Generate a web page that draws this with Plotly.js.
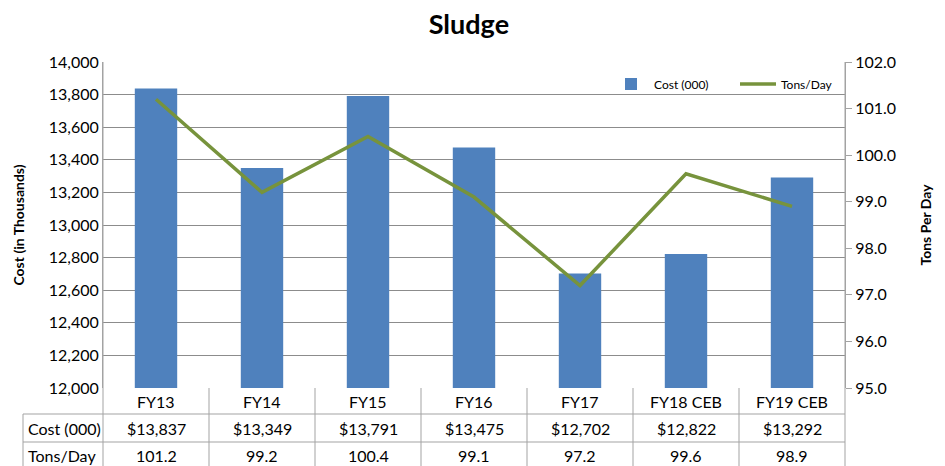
<!DOCTYPE html>
<html>
<head>
<meta charset="utf-8">
<script src="https://cdn.plot.ly/plotly-3.0.1.min.js"></script>
<style>
  body { margin: 0; background: #fff; }
  #chart { width: 945px; height: 466px; }
</style>
</head>
<body>
<div id="chart"></div>
<script>
// values
var years = ['FY13', 'FY14', 'FY15', 'FY16', 'FY17', 'FY18 CEB', 'FY19 CEB'];
var cost = [13837, 13349, 13791, 13475, 12702, 12822, 13292];
var tons = [101.2, 99.2, 100.4, 99.1, 97.2, 99.6, 98.9];
var rowLabels = ['Cost (000)', 'Tons/Day'];

var font = 'Lato, "Open Sans", sans-serif';
var gridColor = '#8c8c8c';
var lineColor = '#a3a3a3';

// plot area is 326px tall, helpers to go from pixel rows to paper coords
var plotTop = 62, plotBottom = 388, plotH = plotBottom - plotTop;
function py(pix) { return (plotBottom - pix) / plotH; }

var traces = [
  {
    x: years,
    y: cost,
    type: 'bar',
    name: 'Cost (000)',
    marker: { color: '#4F81BD' },
    hoverinfo: 'x+y'
  },
  {
    x: years,
    y: tons,
    type: 'scatter',
    mode: 'lines',
    name: 'Tons/Day',
    yaxis: 'y2',
    line: { color: '#77933C', width: 3.5 }
  }
];

var shapes = [];
var annotations = [];

// table rows
var rowLines = [414, 442];
rowLines.forEach(function (yy) {
  shapes.push({
    type: 'line', xref: 'paper', yref: 'paper',
    x0: (23 - 103) / 742, x1: 1, y0: py(yy), y1: py(yy),
    line: { color: lineColor, width: 1 }
  });
});
// label column left border
shapes.push({
  type: 'line', xref: 'paper', yref: 'paper',
  x0: (23 - 103) / 742, x1: (23 - 103) / 742, y0: py(414), y1: py(466),
  line: { color: lineColor, width: 1 }
});
// column borders inside the table
for (var i = 0; i < years.length - 1; i++) {
  shapes.push({
    type: 'line', xref: 'x', yref: 'paper',
    x0: i + 0.5, x1: i + 0.5, y0: 0, y1: py(466),
    line: { color: lineColor, width: 1 }
  });
}
// outer verticals, running down through the table
[0, 1].forEach(function (xx) {
  shapes.push({
    type: 'line', xref: 'paper', yref: 'paper',
    x0: xx, x1: xx, y0: 1, y1: py(466),
    line: { color: lineColor, width: 1 }
  });
});

// table text
var cellFont = { size: 16, color: '#000' };
years.forEach(function (yr, k) {
  annotations.push({
    x: yr, xref: 'x', y: py(401), yref: 'paper', yanchor: 'middle',
    text: yr, showarrow: false, font: cellFont
  });
  annotations.push({
    x: yr, xref: 'x', y: py(428), yref: 'paper', yanchor: 'middle',
    text: '$' + cost[k].toLocaleString('en-US'), showarrow: false,
    font: cellFont
  });
  annotations.push({
    x: yr, xref: 'x', y: py(455), yref: 'paper', yanchor: 'middle',
    text: tons[k].toFixed(1), showarrow: false, font: cellFont
  });
});
rowLabels.forEach(function (lab, k) {
  annotations.push({
    x: (26 - 103) / 742, xref: 'paper', xanchor: 'left',
    y: py(k === 0 ? 428 : 455), yref: 'paper', yanchor: 'middle',
    text: lab, showarrow: false, font: cellFont
  });
});

var layout = {
  width: 945,
  height: 466,
  margin: { l: 103, r: 100, t: plotTop, b: 466 - plotBottom },
  paper_bgcolor: '#fff',
  plot_bgcolor: '#fff',
  font: { family: font, color: '#000', size: 15 },
  title: {
    text: '<b>Sludge</b>',
    font: { size: 27, family: font, color: '#000' },
    x: 466 / 945, xref: 'paper', xanchor: 'center',
    y: 1 - 25 / 466, yanchor: 'middle'
  },
  bargap: 0.6,
  showlegend: true,
  legend: {
    orientation: 'h',
    x: (608 - 103) / 742, xanchor: 'left',
    y: py(84), yanchor: 'middle',
    font: { size: 12, family: font },
    bgcolor: 'rgba(0,0,0,0)',
    itemwidth: 36,
    entrywidth: 76
  },
  xaxis: {
    type: 'category',
    range: [-0.5, years.length - 0.5],
    showticklabels: false,
    ticks: '',
    showgrid: false,
    zeroline: false,
    fixedrange: true
  },
  yaxis: {
    range: [12000, 14000],
    dtick: 200,
    tickformat: ',d',
    tickfont: { size: 16 },
    showgrid: true,
    gridcolor: gridColor,
    zeroline: false,
    showline: true,
    linecolor: lineColor,
    ticks: '',
    title: {
      text: '<b>Cost (in Thousands)</b>',
      font: { size: 14, family: font },
      standoff: 20
    }
  },
  yaxis2: {
    overlaying: 'y',
    side: 'right',
    range: [95, 102],
    dtick: 1,
    tickformat: '.1f',
    tickfont: { size: 16 },
    showgrid: false,
    zeroline: false,
    showline: true,
    linecolor: lineColor,
    ticks: 'outside',
    ticklen: 6,
    tickcolor: lineColor,
    title: {
      text: '<b>Tons Per Day</b>',
      font: { size: 14, family: font },
      standoff: 26
    }
  },
  shapes: shapes,
  annotations: annotations
};

Plotly.newPlot('chart', traces, layout, { displayModeBar: false, responsive: false });
</script>
</body>
</html>
